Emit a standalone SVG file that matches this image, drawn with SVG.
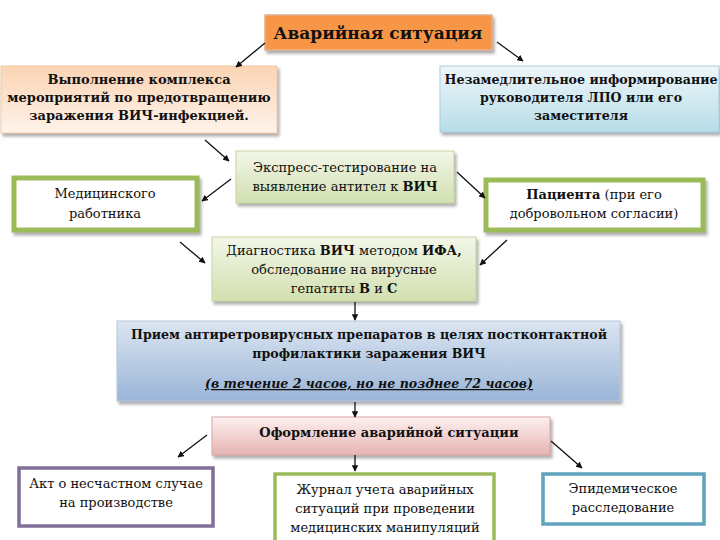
<svg xmlns="http://www.w3.org/2000/svg" width="720" height="540" viewBox="0 0 720 540">
<style>
text{font-family:"DejaVu Serif","Liberation Serif",serif;font-weight:bold;font-size:13px;fill:#111;text-anchor:middle}
.t{font-size:17px}
.n{font-weight:normal}
.s{font-size:12.6px}
.con line{stroke:#111;stroke-width:1.3;marker-end:url(#ah)}
</style>
<defs>
<marker id="ah" viewBox="0 0 10 10" refX="9" refY="5" markerWidth="5" markerHeight="5" orient="auto"><path d="M0,0 L10,5 L0,10 z" fill="#111"/></marker>
<filter id="sh" x="-10%" y="-10%" width="125%" height="140%"><feDropShadow dx="2" dy="3" stdDeviation="1.5" flood-color="#777" flood-opacity="0.6"/></filter>
<linearGradient id="gOr" x1="0" y1="0" x2="0" y2="1"><stop offset="0" stop-color="#fbd4b4"/><stop offset="1" stop-color="#fef3ea"/></linearGradient>
<linearGradient id="gBl" x1="0" y1="0" x2="0" y2="1"><stop offset="0" stop-color="#eef6fa"/><stop offset="1" stop-color="#b7dde8"/></linearGradient>
<linearGradient id="gGr" x1="0" y1="0" x2="0" y2="1"><stop offset="0" stop-color="#f2f6e8"/><stop offset="1" stop-color="#d2e0b0"/></linearGradient>
<linearGradient id="gBig" x1="0" y1="0" x2="0" y2="1"><stop offset="0" stop-color="#dbe5f1"/><stop offset="1" stop-color="#9ab5d8"/></linearGradient>
<linearGradient id="gPk" x1="0" y1="0" x2="0" y2="1"><stop offset="0" stop-color="#fdf0f0"/><stop offset="1" stop-color="#e6b4b3"/></linearGradient>
</defs>
<rect width="720" height="540" fill="#fff"/>

<g id="n-title"><rect x="265" y="15" width="227" height="35" fill="#f79646" stroke="#e0b090" stroke-width="1.5" filter="url(#sh)"/><text class="t" x="378" y="39">Аварийная ситуация</text></g>

<g id="n-prevent"><rect x="1" y="66" width="276" height="67" fill="url(#gOr)" stroke="#f2c9a6" filter="url(#sh)"/>
<text x="139" y="84">Выполнение комплекса</text><text x="139" y="102">мероприятий по предотвращению</text><text x="139" y="120">заражения ВИЧ-инфекцией.</text></g>

<g id="n-inform"><rect x="440" y="66" width="279" height="66" fill="url(#gBl)" stroke="#a6cfdd" filter="url(#sh)"/>
<text x="581" y="84" class="s">Незамедлительное информирование</text><text x="581" y="102" class="s">руководителя ЛПО или его</text><text x="581" y="120" class="s">заместителя</text></g>

<g id="n-express"><rect x="236" y="151" width="218" height="52" fill="url(#gGr)" stroke="#c5d6a0" filter="url(#sh)"/>
<text x="345" y="172" class="n">Экспресс-тестирование на</text><text x="345" y="191" class="n">выявление антител к <tspan font-weight="bold">ВИЧ</tspan></text></g>

<g id="n-medic"><rect x="14" y="178" width="183" height="52" fill="#fff" stroke="#9bbb59" stroke-width="5" filter="url(#sh)"/>
<text x="105" y="198" class="n">Медицинского</text><text x="105" y="218" class="n">работника</text></g>

<g id="n-patient"><rect x="486" y="180" width="217" height="50" fill="#fff" stroke="#9bbb59" stroke-width="5" filter="url(#sh)"/>
<text x="594" y="199" class="n"><tspan font-weight="bold">Пациента</tspan>  (при его</text><text x="594" y="218" class="n">добровольном согласии)</text></g>

<g id="n-diag"><rect x="212" y="237" width="264" height="64" fill="url(#gGr)" stroke="#c5d6a0" filter="url(#sh)"/>
<text x="344" y="255" class="n">Диагностика <tspan font-weight="bold">ВИЧ</tspan> методом <tspan font-weight="bold">ИФА,</tspan></text><text x="344" y="274" class="n">обследование на вирусные</text><text x="344" y="293" class="n">гепатиты <tspan font-weight="bold">В</tspan> и <tspan font-weight="bold">С</tspan></text></g>

<g id="n-arv"><rect x="117" y="321" width="503" height="80" fill="url(#gBig)" stroke="#b8c8dc" filter="url(#sh)"/>
<text x="369" y="339" class="s">Прием антиретровирусных препаратов в целях постконтактной</text><text x="369" y="358" class="s">профилактики заражения ВИЧ</text>
<text x="369" y="388" class="s" font-style="italic" text-decoration="underline">(в течение 2 часов, но не позднее 72 часов)</text></g>

<g id="n-docs"><rect x="212" y="417" width="338" height="38" fill="url(#gPk)" stroke="#d9a8a6" filter="url(#sh)"/>
<text x="389" y="437">Оформление аварийной ситуации</text></g>

<g id="n-act"><rect x="19" y="468" width="194" height="58" fill="#fff" stroke="#7f6f99" stroke-width="3.5"/>
<text x="116" y="488" class="n">Акт о несчастном случае</text><text x="116" y="507" class="n">на производстве</text></g>

<g id="n-journal"><rect x="275" y="474" width="219" height="68" fill="#fff" stroke="#9bbb59" stroke-width="3.5"/>
<text x="385" y="494" class="n">Журнал учета аварийных</text><text x="385" y="513" class="n">ситуаций при проведении</text><text x="385" y="532" class="n">медицинских манипуляций</text></g>

<g id="n-epid"><rect x="543" y="474" width="161" height="50" fill="#fff" stroke="#5fa3bd" stroke-width="3.5"/>
<text x="623" y="493" class="n">Эпидемическое</text><text x="623" y="512" class="n">расследование</text></g>

<g class="con" id="connectors">
<line x1="265" y1="43" x2="236" y2="67"/>
<line x1="497" y1="42" x2="523" y2="61"/>
<line x1="205" y1="140" x2="229" y2="161"/>
<line x1="231" y1="179" x2="202" y2="201"/>
<line x1="457" y1="172" x2="485" y2="198"/>
<line x1="180" y1="242" x2="205" y2="263"/>
<line x1="507" y1="240" x2="480" y2="265"/>
<line x1="355" y1="302" x2="355" y2="320"/>
<line x1="355" y1="402" x2="355" y2="417"/>
<line x1="207" y1="435" x2="178" y2="457"/>
<line x1="355" y1="455" x2="355" y2="471"/>
<line x1="551" y1="441" x2="582" y2="468"/>
</g>
</svg>
